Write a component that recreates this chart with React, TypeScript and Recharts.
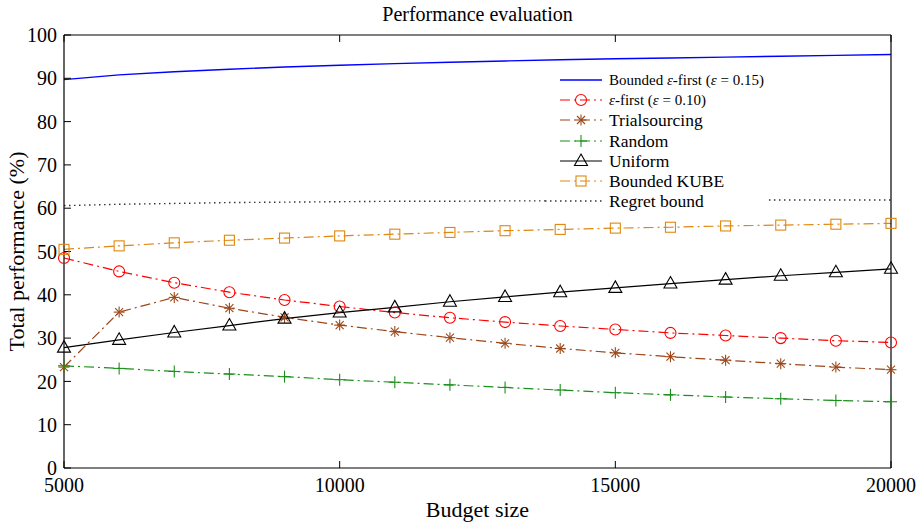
import React from 'react';
import { LineChart, Line, XAxis, YAxis, Legend } from 'recharts';

// Budget sizes on the x axis
const budgets = [5000, 6000, 7000, 8000, 9000, 10000, 11000, 12000, 13000, 14000, 15000, 16000, 17000, 18000, 19000, 20000];

// Total performance (%) per algorithm
const boundedEpsFirst = [89.7, 90.8, 91.5, 92.1, 92.6, 93.0, 93.4, 93.7, 94.0, 94.3, 94.5, 94.7, 94.9, 95.1, 95.3, 95.5];
const epsFirst = [48.5, 45.4, 42.8, 40.6, 38.8, 37.3, 35.9, 34.7, 33.7, 32.8, 32.0, 31.2, 30.6, 30.0, 29.4, 29.0];
const trialsourcing = [23.3, 36.0, 39.4, 36.9, 34.8, 33.0, 31.5, 30.1, 28.8, 27.6, 26.6, 25.7, 24.9, 24.1, 23.3, 22.7];
const randomSel = [23.6, 23.0, 22.3, 21.7, 21.1, 20.4, 19.8, 19.2, 18.6, 18.0, 17.4, 16.9, 16.4, 16.0, 15.6, 15.3];
const uniform = [27.8, 29.6, 31.3, 32.9, 34.5, 35.9, 37.1, 38.4, 39.5, 40.6, 41.6, 42.6, 43.5, 44.4, 45.2, 46.0];
const boundedKube = [50.5, 51.3, 52.0, 52.6, 53.1, 53.6, 54.0, 54.4, 54.8, 55.1, 55.4, 55.6, 55.9, 56.1, 56.3, 56.5];
const regretBound = [60.6, 60.9, 61.1, 61.3, 61.4, 61.5, 61.6, 61.6, 61.7, 61.7, 61.8, 61.8, 61.8, 61.9, 61.9, 61.9];

const xTicks = [5000, 10000, 15000, 20000];
const yTicks = [0, 10, 20, 30, 40, 50, 60, 70, 80, 90, 100];

const data = budgets.map((x, i) => ({
  x,
  boundedEpsFirst: boundedEpsFirst[i],
  epsFirst: epsFirst[i],
  trialsourcing: trialsourcing[i],
  randomSel: randomSel[i],
  uniform: uniform[i],
  boundedKube: boundedKube[i],
  regretBound: regretBound[i],
}));

const FONT = '"Liberation Serif", "Times New Roman", serif';
const DASH_DOT = '10 4 2 4';

const BLUE = '#0000ff';
const RED = '#ff0000';
const BROWN = '#9c4618';
const GREEN = '#1a901a';
const ORANGE = '#e0870f';
const REGRET = '#333333';

type MarkerKind = 'none' | 'circle' | 'star' | 'plus' | 'triangle' | 'square';

function Marker({ kind, cx, cy, color }: { kind: MarkerKind; cx: number; cy: number; color: string }) {
  const sw = 1.1;
  switch (kind) {
    case 'circle':
      return <circle cx={cx} cy={cy} r={5.5} fill="none" stroke={color} strokeWidth={sw} />;
    case 'square':
      return <rect x={cx - 5} y={cy - 5} width={10} height={10} fill="none" stroke={color} strokeWidth={sw} />;
    case 'triangle':
      return (
        <path
          d={`M${cx},${cy - 7} L${cx + 6.5},${cy + 4.5} L${cx - 6.5},${cy + 4.5} Z`}
          fill="none"
          stroke={color}
          strokeWidth={sw}
        />
      );
    case 'plus':
      return (
        <g stroke={color} strokeWidth={sw}>
          <line x1={cx - 6} y1={cy} x2={cx + 6} y2={cy} />
          <line x1={cx} y1={cy - 6} x2={cx} y2={cy + 6} />
        </g>
      );
    case 'star':
      return (
        <g stroke={color} strokeWidth={sw}>
          <line x1={cx - 5.5} y1={cy} x2={cx + 5.5} y2={cy} />
          <line x1={cx} y1={cy - 5.5} x2={cx} y2={cy + 5.5} />
          <line x1={cx - 4} y1={cy - 4} x2={cx + 4} y2={cy + 4} />
          <line x1={cx - 4} y1={cy + 4} x2={cx + 4} y2={cy - 4} />
        </g>
      );
    default:
      return null;
  }
}

const dotOf = (kind: MarkerKind, color: string) => (props: any) => {
  const { cx, cy, index } = props;
  if (cx == null || cy == null) return <g key={`d-${index}`} />;
  return (
    <g key={`d-${index}`}>
      <Marker kind={kind} cx={cx} cy={cy} color={color} />
    </g>
  );
};

interface SeriesDef {
  key: string;
  name: string;
  color: string;
  dash?: string;
  width: number;
  marker: MarkerKind;
  fontSize: number;
}

const series: SeriesDef[] = [
  { key: 'boundedEpsFirst', name: 'Bounded ε-first (ε = 0.15)', color: BLUE, width: 1.4, marker: 'none', fontSize: 15 },
  { key: 'epsFirst', name: 'ε-first (ε = 0.10)', color: RED, dash: DASH_DOT, width: 1.2, marker: 'circle', fontSize: 15 },
  { key: 'trialsourcing', name: 'Trialsourcing', color: BROWN, dash: DASH_DOT, width: 1.2, marker: 'star', fontSize: 17.5 },
  { key: 'randomSel', name: 'Random', color: GREEN, dash: DASH_DOT, width: 1.2, marker: 'plus', fontSize: 17.5 },
  { key: 'uniform', name: 'Uniform', color: '#000000', width: 1.2, marker: 'triangle', fontSize: 17.5 },
  { key: 'boundedKube', name: 'Bounded KUBE', color: ORANGE, dash: DASH_DOT, width: 1.2, marker: 'square', fontSize: 17.5 },
  { key: 'regretBound', name: 'Regret bound', color: REGRET, dash: '1.5 3.5', width: 1.4, marker: 'none', fontSize: 17.5 },
];

// Names with the Greek epsilon set in italics
function renderName(name: string) {
  const parts = name.split('ε');
  const out: React.ReactNode[] = [];
  parts.forEach((p, i) => {
    if (i > 0) out.push(<i key={`e${i}`}>ε</i>);
    out.push(<span key={`p${i}`}>{p}</span>);
  });
  return out;
}

function LegendBox() {
  return (
    <div style={{ background: '#ffffff', width: 222, paddingTop: 2, paddingBottom: 4, fontFamily: FONT, color: '#000' }}>
      {series.map((s) => {
        const x1 = s.key === 'regretBound' ? 0 : 15;
        return (
          <div key={s.key} style={{ display: 'flex', alignItems: 'center', height: 20.2 }}>
            <svg width={64} height={20} style={{ display: 'block', flex: 'none' }}>
              <line x1={x1} y1={10} x2={57} y2={10} stroke={s.color} strokeWidth={s.width} strokeDasharray={s.dash} />
              <Marker kind={s.marker} cx={36} cy={10} color={s.color} />
            </svg>
            <span style={{ fontSize: s.fontSize, whiteSpace: 'nowrap', lineHeight: '20px' }}>{renderName(s.name)}</span>
          </div>
        );
      })}
    </div>
  );
}

const tickStyle = { fill: '#000', fontSize: 20, fontFamily: FONT };
const emptyTick = () => <g />;

export default function App() {
  return (
    <div style={{ position: 'absolute', left: 0, top: 0, background: '#fff' }}>
      <LineChart width={919} height={525} data={data} margin={{ top: 34, right: 27, bottom: 0, left: 0 }}>
        <XAxis
          dataKey="x"
          type="number"
          domain={[5000, 20000]}
          ticks={xTicks}
          height={57}
          tickSize={-7}
          tickMargin={17}
          tick={tickStyle}
          axisLine={{ stroke: '#000', strokeWidth: 1.2 }}
          tickLine={{ stroke: '#000', strokeWidth: 1 }}
          label={{ value: 'Budget size', position: 'insideBottom', offset: 8, fill: '#000', fontSize: 22, fontFamily: FONT }}
        />
        <XAxis
          xAxisId="top"
          dataKey="x"
          orientation="top"
          type="number"
          domain={[5000, 20000]}
          ticks={xTicks}
          height={1}
          tickSize={-7}
          tick={emptyTick}
          axisLine={{ stroke: '#000', strokeWidth: 1.2 }}
          tickLine={{ stroke: '#000', strokeWidth: 1 }}
          label={{ value: 'Performance evaluation', position: 'top', offset: 13, fill: '#000', fontSize: 20, fontFamily: FONT }}
        />
        <YAxis
          type="number"
          domain={[0, 100]}
          ticks={yTicks}
          width={64}
          tickSize={-7}
          tickMargin={14}
          tick={tickStyle}
          axisLine={{ stroke: '#000', strokeWidth: 1.2 }}
          tickLine={{ stroke: '#000', strokeWidth: 1 }}
          label={{
            value: 'Total performance (%)',
            angle: -90,
            position: 'insideLeft',
            offset: 16,
            fill: '#000',
            fontSize: 22,
            fontFamily: FONT,
            style: { textAnchor: 'middle' },
          }}
        />
        <YAxis
          yAxisId="right"
          orientation="right"
          type="number"
          domain={[0, 100]}
          ticks={yTicks}
          width={1}
          tickSize={-7}
          tick={emptyTick}
          axisLine={{ stroke: '#000', strokeWidth: 1.2 }}
          tickLine={{ stroke: '#000', strokeWidth: 1 }}
        />
        {series.map((s) => (
          <Line
            key={s.key}
            dataKey={s.key}
            name={s.name}
            type="linear"
            stroke={s.color}
            strokeWidth={s.width}
            strokeDasharray={s.dash}
            dot={s.marker === 'none' ? false : dotOf(s.marker, s.color)}
            activeDot={false}
            isAnimationActive={false}
          />
        ))}
        <Legend
          layout="vertical"
          align="center"
          verticalAlign="middle"
          content={() => <LegendBox />}
          wrapperStyle={{ left: 545, top: 68, width: 222, height: 'auto' }}
        />
      </LineChart>
    </div>
  );
}
